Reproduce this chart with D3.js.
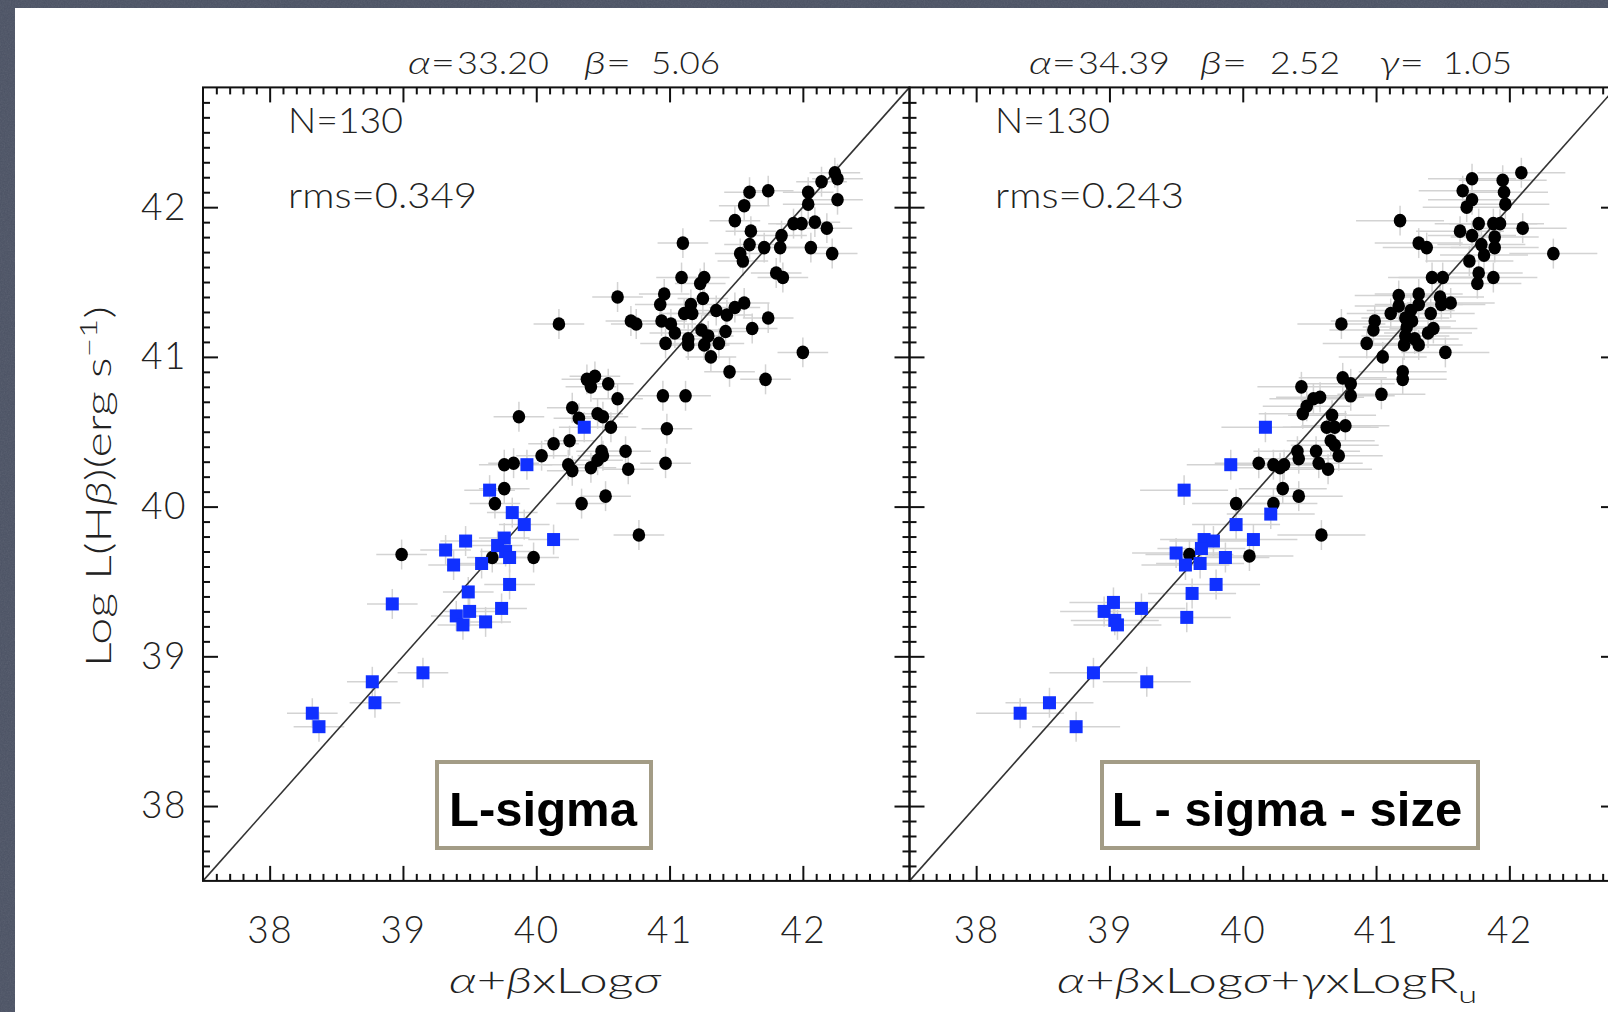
<!DOCTYPE html>
<html>
<head>
<meta charset="utf-8">
<script src="https://cdn.jsdelivr.net/npm/d3@7"></script>
<style>
  body { margin: 0; background: #4b5264; }
  svg { display: block; }
  text { font-family: Lato, "Open Sans", sans-serif; font-weight: 300; fill: #222; }
  .legend text { font-family: "Liberation Sans Narrow", "Liberation Sans", Arial, sans-serif; font-weight: bold; fill: #000; }
</style>
</head>
<body>
<svg id="chart"></svg>
<script>
var svgWidth = 1608;
var svgHeight = 1012;

// tick labels on both axes
var majorTicks = [38, 39, 40, 41, 42];

// L-sigma panel: black = HII galaxies, blue = GEHR
var leftBlack = [
  [42.24,42.23],[42.26,42.19],[42.14,42.17],[42.04,42.10],[42.04,42.02],[42.26,42.05],
  [41.60,42.10],[41.74,42.11],[41.56,42.01],[41.49,41.91],[41.61,41.84],[41.60,41.75],
  [41.71,41.73],[41.84,41.81],[41.83,41.73],[41.93,41.89],[41.99,41.89],[42.09,41.90],
  [42.18,41.86],[42.06,41.73],[42.22,41.69],[41.53,41.69],[41.55,41.64],[41.10,41.76],
  [41.80,41.56],[41.85,41.53],[41.09,41.53],[41.26,41.53],[41.23,41.49],[40.96,41.42],
  [40.93,41.35],[41.25,41.39],[41.16,41.35],[41.11,41.29],[41.17,41.29],[41.35,41.31],
  [41.43,41.28],[41.49,41.33],[41.56,41.36],[41.74,41.26],[40.61,41.40],[40.71,41.24],
  [40.75,41.22],[40.94,41.24],[41.01,41.22],[41.04,41.16],[40.97,41.09],[41.14,41.12],
  [41.14,41.08],[41.24,41.18],[41.29,41.14],[41.26,41.08],[41.37,41.09],[41.42,41.17],
  [41.62,41.19],[41.31,41.00],[42.00,41.03],[41.45,40.90],[41.72,40.85],[40.17,41.22],
  [40.38,40.85],[40.44,40.87],[40.41,40.80],[40.54,40.82],[40.61,40.72],[40.27,40.66],
  [40.95,40.74],[41.12,40.74],[40.32,40.59],[40.46,40.62],[40.50,40.60],[40.56,40.53],
  [40.98,40.52],[39.87,40.60],[40.25,40.44],[40.13,40.42],[40.04,40.34],[39.76,40.28],
  [39.83,40.29],[40.24,40.28],[40.27,40.24],[40.41,40.26],[40.49,40.37],[40.50,40.34],
  [40.46,40.31],[40.67,40.37],[40.69,40.25],[40.97,40.29],[40.52,40.07],[40.34,40.02],
  [40.77,39.81],[39.76,40.12],[39.69,40.02],[38.99,39.68],[39.98,39.66],[39.67,39.66]
];

var leftBlue = [
  [40.36,40.53],[39.93,40.28],[39.65,40.11],[39.82,39.96],[39.91,39.88],[40.13,39.78],
  [39.47,39.77],[39.32,39.71],[39.38,39.61],[39.59,39.62],[39.76,39.79],[39.71,39.74],
  [39.77,39.70],[39.80,39.66],[39.80,39.48],[39.49,39.43],[39.74,39.32],[38.92,39.35],
  [39.40,39.27],[39.50,39.30],[39.45,39.21],[39.62,39.23],[39.15,38.89],[38.77,38.83],
  [38.79,38.69],[38.32,38.62],[38.37,38.53]
];

// L-sigma-size panel
var rightBlack = [
  [42.09,42.23],[41.72,42.19],[41.95,42.18],[41.65,42.11],[41.72,42.05],[41.68,42.00],
  [41.96,42.10],[41.97,42.02],[41.18,41.91],[41.77,41.89],[41.88,41.89],[41.93,41.89],
  [42.10,41.86],[41.63,41.84],[41.72,41.81],[41.89,41.80],[41.89,41.73],[41.79,41.75],
  [41.81,41.68],[42.33,41.69],[41.32,41.76],[41.38,41.73],[41.70,41.64],[41.77,41.56],
  [41.76,41.49],[41.88,41.53],[41.42,41.53],[41.50,41.53],[41.17,41.41],[41.32,41.42],
  [41.48,41.40],[41.49,41.35],[41.56,41.36],
  [41.11,41.29],[41.17,41.34],[41.26,41.31],[41.32,41.35],[41.41,41.29],[41.22,41.26],
  [41.27,41.24],[41.23,41.20],[41.43,41.19],[41.39,41.16],[41.22,41.14],[41.29,41.12],
  [41.21,41.08],[41.32,41.08],
  [40.99,41.24],[40.98,41.18],[40.74,41.22],[40.93,41.09],[41.05,41.00],[41.52,41.03],
  [41.20,40.90],[41.20,40.85],[40.75,40.86],[40.81,40.82],[40.81,40.74],[41.04,40.75],
  [40.44,40.80],[40.53,40.72],[40.58,40.73],[40.48,40.67],[40.45,40.62],[40.67,40.61],
  [40.63,40.53],[40.69,40.53],[40.77,40.54],[40.66,40.44],[40.69,40.41],[40.72,40.34],
  [40.55,40.37],[40.57,40.29],[40.64,40.25],[40.41,40.37],[40.42,40.32],[40.12,40.29],
  [40.23,40.28],[40.28,40.26],[40.31,40.28],[40.30,40.12],[40.42,40.07],[40.23,40.02],
  [39.95,40.02],[40.59,39.81],[39.60,39.68],[40.05,39.67]
];

var rightBlue = [
  [40.17,40.53],[39.91,40.28],[39.56,40.11],[40.21,39.95],[39.95,39.88],[39.71,39.78],
  [39.78,39.77],[39.69,39.72],[40.08,39.78],[39.50,39.69],[39.87,39.66],[39.57,39.61],
  [39.68,39.62],[39.62,39.42],[39.80,39.48],[39.03,39.36],[38.96,39.30],[39.04,39.24],
  [39.06,39.21],[39.24,39.32],[39.58,39.26],[38.88,38.89],[39.28,38.83],[38.55,38.69],
  [38.33,38.62],[38.75,38.53]
];

// typical error bar half-lengths
var leftErr = [0.19, 0.10];
var rightErr = [0.33, 0.10];

var leftParams = [["α", "33.20"], ["β", "5.06"]];
var rightParams = [["α", "34.39"], ["β", "2.52"], ["γ", "1.05"]];
var leftStats = ["N=130", "rms=0.349"];
var rightStats = ["N=130", "rms=0.243"];

var domain = [37.5, 42.8];

var svg = d3.select("#chart")
  .attr("width", svgWidth)
  .attr("height", svgHeight);

// slate background with a bit of grain
var defs = svg.append("defs");
var grain = defs.append("filter").attr("id", "grain");
grain.append("feTurbulence").attr("type", "fractalNoise").attr("baseFrequency", 0.7)
  .attr("numOctaves", 3).attr("seed", 4);
grain.append("feColorMatrix").attr("type", "saturate").attr("values", 0);

svg.append("rect").attr("width", svgWidth).attr("height", svgHeight).attr("fill", "#4b5264");
svg.append("rect").attr("width", svgWidth).attr("height", svgHeight)
  .attr("filter", "url(#grain)").attr("opacity", 0.12);
svg.append("rect").attr("x", 15).attr("y", 8)
  .attr("width", svgWidth - 15).attr("height", svgHeight - 8).attr("fill", "#fff");

var yScale = d3.scaleLinear().domain(domain).range([880.9, 87.4]);
var xLeft = d3.scaleLinear().domain(domain).range([203, 909.5]);
var xRight = d3.scaleLinear().domain(domain).range([909.5, 1616]);

var minorTicks = d3.range(376, 428).map(d => d / 10).filter(d => d % 1 !== 0);

function drawPanel(xScale, black, blue, err) {
  var g = svg.append("g");
  var x0 = xScale.range()[0], x1 = xScale.range()[1];
  var y0 = yScale.range()[0], y1 = yScale.range()[1];

  // error bars
  var all = black.concat(blue);
  var eb = g.append("g").attr("stroke", "#d3d3d3").attr("stroke-width", 1.5);
  eb.selectAll("line.h").data(all).enter().append("line")
    .attr("x1", d => xScale(d[0] - err[0])).attr("x2", d => xScale(d[0] + err[0]))
    .attr("y1", d => yScale(d[1])).attr("y2", d => yScale(d[1]));
  eb.selectAll("line.v").data(all).enter().append("line")
    .attr("x1", d => xScale(d[0])).attr("x2", d => xScale(d[0]))
    .attr("y1", d => yScale(d[1] - err[1])).attr("y2", d => yScale(d[1] + err[1]));

  // one-to-one line
  g.append("line")
    .attr("x1", xScale(domain[0])).attr("y1", yScale(domain[0]))
    .attr("x2", xScale(domain[1])).attr("y2", yScale(domain[1]))
    .attr("stroke", "#333").attr("stroke-width", 1.6);

  g.selectAll("ellipse").data(black).enter().append("ellipse")
    .attr("cx", d => xScale(d[0])).attr("cy", d => yScale(d[1]))
    .attr("rx", 6.3).attr("ry", 6.8).attr("fill", "#000");

  g.selectAll("rect.blue").data(blue).enter().append("rect")
    .attr("class", "blue")
    .attr("x", d => xScale(d[0]) - 6.5).attr("y", d => yScale(d[1]) - 6.5)
    .attr("width", 13).attr("height", 13).attr("fill", "#1030ff");

  // frame
  g.append("rect").attr("x", x0).attr("y", y1).attr("width", x1 - x0).attr("height", y0 - y1)
    .attr("fill", "none").attr("stroke", "#111").attr("stroke-width", 2);

  // inward ticks on all four sides
  function ticks(axis, tx, ty, showLabels) {
    var a = g.append("g").attr("transform", `translate(${tx},${ty})`);
    a.call(axis.tickValues(majorTicks).tickSize(-15).tickPadding(showLabels ? 16 : 0)
      .tickFormat(showLabels ? d3.format("d") : ""));
    a.append("g").call(axis.tickValues(minorTicks).tickSize(-7).tickFormat(""));
    a.selectAll(".domain").remove();
    a.selectAll("line").attr("stroke", "#111").attr("stroke-width", 2);
    a.selectAll("text").attr("font-size", 37).attr("font-family", "Lato, 'Open Sans', sans-serif")
      .attr("font-weight", 300).attr("fill", "#222").attr("letter-spacing", 1.5);
    return a;
  }
  var bottom = ticks(d3.axisBottom(xScale), 0, y0, true);
  bottom.selectAll(".tick text").attr("y", 36);
  ticks(d3.axisTop(xScale), 0, y1, false);
  ticks(d3.axisLeft(yScale), x0, 0, x0 < 300);
  ticks(d3.axisRight(yScale), x1, 0, false);
  return g;
}

drawPanel(xLeft, leftBlack, leftBlue, leftErr);
drawPanel(xRight, rightBlack, rightBlue, rightErr);

// text stretched to a measured width (the original font is a wide one)
function wide(x, y, size, w) {
  return svg.append("text").attr("x", x).attr("y", y).attr("font-size", size)
    .attr("textLength", w).attr("lengthAdjust", "spacingAndGlyphs");
}

// parameter headers above each panel: [start of symbol, end of "=", start of value, end of value]
function header(params, spans) {
  params.forEach(function(p, i) {
    var s = spans[i];
    var t = wide(s[0], 74, 31, s[1] - s[0]);
    t.append("tspan").style("font-style", "italic").text(p[0]);
    t.append("tspan").text("=");
    wide(s[2], 74, 31, s[3] - s[2]).text(p[1]);
  });
}
header(leftParams, [[408, 455, 457, 549], [584, 631, 651, 720]]);
header(rightParams, [[1029, 1076, 1078, 1170], [1200, 1247, 1270, 1340], [1379, 1424, 1443, 1512]]);

function stats(lines, x) {
  wide(x, 133, 35, 115).text(lines[0]);
  wide(x, 208, 35, 189).text(lines[1]);
}
stats(leftStats, 288);
stats(rightStats, 995);

// y axis label
var yl = svg.append("text")
  .attr("transform", "translate(111,306) rotate(-90)")
  .attr("x", -361).attr("font-size", 35)
  .attr("textLength", 361).attr("lengthAdjust", "spacingAndGlyphs");
yl.append("tspan").text("Log  L(H");
yl.append("tspan").style("font-style", "italic").text("β");
yl.append("tspan").text(")(erg  s");
yl.append("tspan").attr("font-size", 24).attr("dy", -14).text("−1");
yl.append("tspan").attr("dy", 14).text(")");

// x axis labels
function xLabel(parts, x, w) {
  var t = wide(x, 993, 36, w);
  parts.forEach(function(p) {
    var s = t.append("tspan").text(p[0]);
    if (p[1] === "i") s.style("font-style", "italic");
    if (p[1] === "sub") s.attr("font-size", 24).attr("dy", 10);
  });
}
xLabel([["α","i"],["+"],["β","i"],["xLog"],["σ","i"]], 449, 212);
xLabel([["α","i"],["+"],["β","i"],["xLog"],["σ","i"],["+"],["γ","i"],["xLogR"],["u","sub"]], 1057, 420);

// legend boxes
function legendBox(label, x, w, cx) {
  var g = svg.append("g").attr("class", "legend");
  g.append("rect").attr("x", x).attr("y", 762).attr("width", w).attr("height", 86)
    .attr("fill", "#fff").attr("stroke", "#a39c86").attr("stroke-width", 4);
  g.append("text").attr("x", cx).attr("y", 826).attr("text-anchor", "middle")
    .attr("font-size", 49).text(label);
}
legendBox("L-sigma", 437, 214, 543);
legendBox("L - sigma - size", 1102, 376, 1287);
</script>
</body>
</html>
